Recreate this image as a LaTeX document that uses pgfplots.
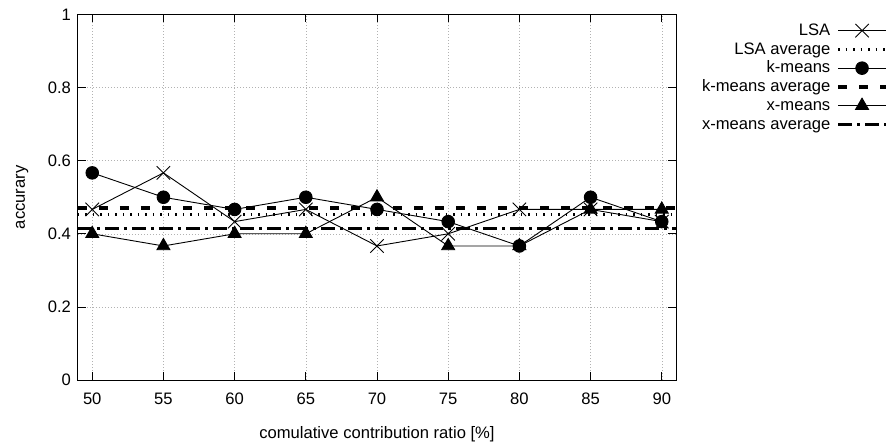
\documentclass[border=0pt]{standalone}
\usepackage{fontspec}
\setmainfont{Liberation Sans}
\usepackage{pgfplots}
\pgfplotsset{compat=1.18}
\begin{document}
\begin{tikzpicture}[font=\fontsize{16.6bp}{19bp}\selectfont]
\path[use as bounding box] (-78bp,-68bp) rectangle (812bp,380bp);
\begin{axis}[
  at={(0,0)}, anchor=south west,
  scale only axis,
  width=598bp, height=365.5bp,
  xmin=49, xmax=91, ymin=0, ymax=1,
  xtick={50,55,...,90},
  ytick={0,0.2,0.4,0.6,0.8,1},
  yticklabels={0,0.2,0.4,0.6,0.8,1},
  /pgf/number format/assume math mode=true,
  tick align=inside,
  major tick length=8bp,
  tick style={black, line width=0.7bp},
  axis line style={black, line width=1bp},
  grid=major,
  grid style={gray!60, line width=0.5bp, dash pattern=on 1bp off 2bp},
  xticklabel style={yshift=-9.5bp, font=\fontsize{16.6bp}{19bp}\selectfont},
  yticklabel style={xshift=-3.5bp, font=\fontsize{16.6bp}{19bp}\selectfont},
  xlabel={comulative contribution ratio [\%]},
  ylabel={accurary},
  every axis x label/.style={at={(axis description cs:0.5,0)},anchor=base,yshift=-58bp,font=\fontsize{16.6bp}{19bp}\selectfont},
  every axis y label/.style={at={(axis description cs:0,0.5)},anchor=base,rotate=90,yshift=53bp,font=\fontsize{16.6bp}{19bp}\selectfont},
  legend cell align=right,
  legend plot pos=right,
  legend style={at={(axis description cs:1.3545,0.982)}, anchor=north east, draw=none, fill=none, inner sep=0pt, row sep=0pt,
    nodes={inner sep=2bp, text height=12bp, text depth=2.75bp},
    font=\fontsize{16.6bp}{19bp}\selectfont},
  legend image code/.code={\path (0bp,0bp); \draw[mark repeat=2,mark phase=2] plot coordinates {(4bp,0bp) (28bp,0bp) (52bp,0bp)};},
]
\addplot[black, line width=0.9bp, mark=x, mark size=9.5bp, mark options={solid, line width=0.9bp}] coordinates {
(50,0.4667) (55,0.5667) (60,0.4333) (65,0.4667) (70,0.3667) (75,0.4) (80,0.4667) (85,0.4667) (90,0.4333)};
\addlegendentry{LSA}
\addplot[black, line width=3bp, dash pattern=on 1.5bp off 6bp] coordinates {(49,0.4519) (91,0.4519)};
\addlegendentry{LSA average}
\addplot[black, line width=0.9bp, mark=*, mark size=6.3bp, mark options={solid}] coordinates {
(50,0.5667) (55,0.5) (60,0.4667) (65,0.5) (70,0.4667) (75,0.4333) (80,0.3667) (85,0.5) (90,0.4333)};
\addlegendentry{k-means}
\addplot[black, line width=3.5bp, dash pattern=on 9bp off 12bp] coordinates {(49,0.4704) (91,0.4704)};
\addlegendentry{k-means average}
\addplot[black, line width=0.9bp, mark=triangle*, mark size=7.5bp, mark options={solid}] coordinates {
(50,0.4) (55,0.3667) (60,0.4) (65,0.4) (70,0.5) (75,0.3667) (80,0.3667) (85,0.4667) (90,0.4667)};
\addlegendentry{x-means}
\addplot[black, line width=3.5bp, dash pattern=on 14bp off 5bp on 3bp off 5bp] coordinates {(49,0.4148) (91,0.4148)};
\addlegendentry{x-means average}
\end{axis}
\end{tikzpicture}
\end{document}
